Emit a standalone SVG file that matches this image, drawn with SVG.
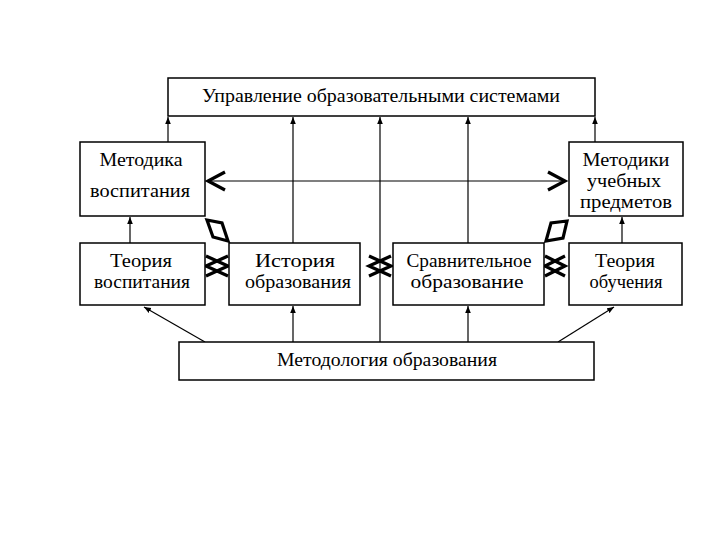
<svg xmlns="http://www.w3.org/2000/svg" width="720" height="540" viewBox="0 0 720 540">
<defs>
<marker id="ah" viewBox="0 0 10 10" refX="10" refY="5" markerWidth="7" markerHeight="7" markerUnits="userSpaceOnUse" orient="auto"><path d="M0,1 L10,5 L0,9 z" fill="#000"/></marker>
<style>
.box{fill:#fff;stroke:#000;stroke-width:1.5}
.t{font-family:"Liberation Serif","Times New Roman",serif;font-size:19px;fill:#000;text-anchor:middle}
.c{stroke:#000;stroke-width:1.2;fill:none}
.thick{stroke:#000;stroke-width:3.2;fill:none;stroke-linejoin:miter}
</style>
</defs>
<rect width="720" height="540" fill="#fff"/>
<g id="connectors">
<line class="c" x1="168" y1="142" x2="168" y2="117" marker-end="url(#ah)"/>
<line class="c" x1="595" y1="142" x2="595" y2="117" marker-end="url(#ah)"/>
<line class="c" x1="293" y1="243" x2="293" y2="117" marker-end="url(#ah)"/>
<line class="c" x1="468" y1="243" x2="468" y2="117" marker-end="url(#ah)"/>
<line class="c" x1="380" y1="342" x2="380" y2="117" marker-end="url(#ah)"/>
<line class="c" x1="130" y1="243" x2="130" y2="217" marker-end="url(#ah)"/>
<line class="c" x1="622" y1="243" x2="622" y2="217" marker-end="url(#ah)"/>
<line class="c" x1="293" y1="342" x2="293" y2="306" marker-end="url(#ah)"/>
<line class="c" x1="468" y1="342" x2="468" y2="306" marker-end="url(#ah)"/>
<line class="c" x1="205" y1="342" x2="144" y2="307" marker-end="url(#ah)"/>
<line class="c" x1="558" y1="342" x2="614" y2="307" marker-end="url(#ah)"/>
<line class="c" x1="209" y1="181" x2="565" y2="181"/>
<polyline class="thick" points="225,172 208,181 225,190"/>
<polyline class="thick" points="548,172 565,181 548,190"/>
<polygon class="thick" points="207,220 222,223 228,241 213,237"/>
<polygon class="thick" points="546,241 551,223 567,221 563,238"/>
<polyline class="thick" points="228,256 206,266 228,276"/>
<polyline class="thick" points="206,256 228,266 206,276"/>
<polyline class="thick" points="391,256 369,266 391,276"/>
<polyline class="thick" points="369,256 391,266 369,276"/>
<polyline class="thick" points="565,256 545,266 565,276"/>
<polyline class="thick" points="545,256 565,266 545,276"/>
</g>
<g id="n-top"><rect class="box" x="168" y="78" width="427" height="38"/><text class="t" x="381" y="102" textLength="358" lengthAdjust="spacingAndGlyphs">Управление образовательными  системами</text></g>
<g id="n-metvosp"><rect class="box" x="80" y="142" width="125" height="74"/><text class="t" x="141" y="166" textLength="83" lengthAdjust="spacingAndGlyphs">Методика</text><text class="t" x="140" y="197" textLength="100" lengthAdjust="spacingAndGlyphs">воспитания</text></g>
<g id="n-metucheb"><rect class="box" x="569" y="142" width="114" height="74"/><text class="t" x="626" y="166" textLength="87" lengthAdjust="spacingAndGlyphs">Методики</text><text class="t" x="624" y="187" textLength="74" lengthAdjust="spacingAndGlyphs">учебных</text><text class="t" x="626" y="208" textLength="92" lengthAdjust="spacingAndGlyphs">предметов</text></g>
<g id="n-teorvosp"><rect class="box" x="80" y="243" width="125" height="62"/><text class="t" x="141" y="267" textLength="62" lengthAdjust="spacingAndGlyphs">Теория</text><text class="t" x="142" y="288" textLength="96" lengthAdjust="spacingAndGlyphs">воспитания</text></g>
<g id="n-istoria"><rect class="box" x="229" y="243" width="131" height="62"/><text class="t" x="295" y="267" textLength="80" lengthAdjust="spacingAndGlyphs">История</text><text class="t" x="298" y="288" textLength="106" lengthAdjust="spacingAndGlyphs">образования</text></g>
<g id="n-sravn"><rect class="box" x="393" y="243" width="151" height="62"/><text class="t" x="469" y="267" textLength="125" lengthAdjust="spacingAndGlyphs">Сравнительное</text><text class="t" x="467" y="288" textLength="113" lengthAdjust="spacingAndGlyphs">образование</text></g>
<g id="n-teorobuch"><rect class="box" x="569" y="243" width="113" height="62"/><text class="t" x="625" y="267" textLength="60" lengthAdjust="spacingAndGlyphs">Теория</text><text class="t" x="626" y="288" textLength="73" lengthAdjust="spacingAndGlyphs">обучения</text></g>
<g id="n-metodol"><rect class="box" x="179" y="342" width="415" height="38"/><text class="t" x="387" y="366" textLength="220" lengthAdjust="spacingAndGlyphs">Методология образования</text></g>
</svg>
